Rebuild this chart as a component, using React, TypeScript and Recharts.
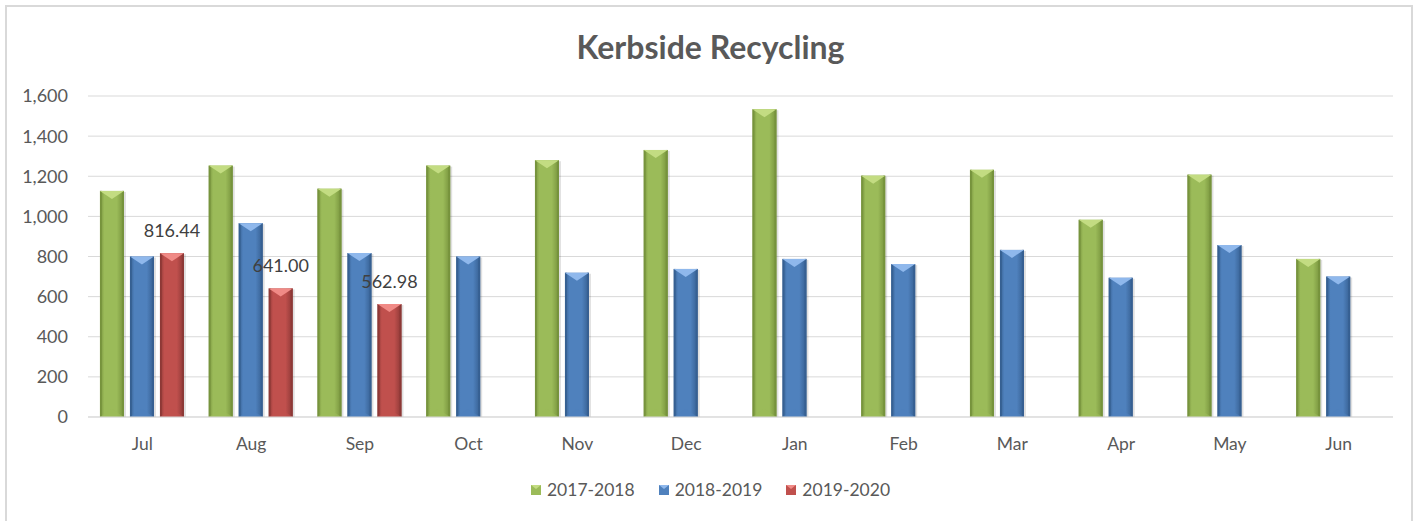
import { Bar, BarChart, CartesianGrid, LabelList, Legend, XAxis, YAxis } from 'recharts';

const months = ['Jul', 'Aug', 'Sep', 'Oct', 'Nov', 'Dec', 'Jan', 'Feb', 'Mar', 'Apr', 'May', 'Jun'];
const season1718 = [1127, 1253, 1138, 1253, 1280, 1331, 1534, 1203, 1232, 983, 1208, 788];
const season1819 = [800, 966, 817, 800, 719, 738, 788, 762, 833, 694, 857, 700];
const season1920: (number | null)[] = [816.44, 641.0, 562.98, null, null, null, null, null, null, null, null, null];
const yTicks = [0, 200, 400, 600, 800, 1000, 1200, 1400, 1600];

const seriesList = [
  { key: 'y1718', name: '2017-2018', base: '#9BBB59', dark: '#76923c', light: '#c3dc82' },
  { key: 'y1819', name: '2018-2019', base: '#4F81BD', dark: '#365f91', light: '#8fb8ec' },
  { key: 'y1920', name: '2019-2020', base: '#C0504D', dark: '#8c3836', light: '#f08a86' },
];

const data = months.map((month, i) => ({
  month,
  y1718: season1718[i],
  y1819: season1819[i],
  y1920: season1920[i],
}));

const textColor = '#595959';
const fontFamily = 'Lato, "Open Sans", sans-serif';

const bevelShape = (key: string) => (props: any) => {
  const { x, y, width, height } = props;
  if (!height || height <= 0) return null;
  const s = seriesList.find((d) => d.key === key)!;
  const cap = Math.min(8, height / 2);
  return (
    <g>
      <rect x={x + 2} y={y + 1} width={width} height={height - 1} fill="#000" opacity={0.12} />
      <rect x={x} y={y} width={width} height={height} fill={`url(#grad-${key})`} />
      <rect x={x} y={y} width={2} height={height} fill={s.dark} opacity={0.8} />
      <rect x={x + width - 2} y={y} width={2} height={height} fill={s.dark} opacity={0.9} />
      <polygon
        points={`${x},${y} ${x + width},${y} ${x + width / 2},${y + cap}`}
        fill={s.light}
      />
      <polygon
        points={`${x},${y + height} ${x + width},${y + height} ${x + width / 2},${y + height - cap}`}
        fill={s.base}
        opacity={0.6}
      />
    </g>
  );
};

const renderLegend = () => (
  <div style={{ display: 'flex', justifyContent: 'center', fontFamily, fontSize: 17.5, color: textColor }}>
    {seriesList.map((s) => (
      <div key={s.key} style={{ display: 'flex', alignItems: 'center', margin: '0 12px' }}>
        <svg width={10} height={10} style={{ marginRight: 6 }}>
          <rect x={0} y={0} width={10} height={10} fill={s.base} />
          <polygon points="0,0 10,0 5,4" fill={s.light} />
        </svg>
        <span>{s.name}</span>
      </div>
    ))}
  </div>
);

export default function App() {
  return (
    <div style={{ position: 'absolute', left: 0, top: 0, width: 1421, height: 521, background: '#fff', overflow: 'hidden' }}>
      <div
        style={{
          position: 'absolute',
          left: 5,
          top: 5,
          width: 1408,
          height: 540,
          border: '2px solid #d9d9d9',
          boxSizing: 'border-box',
        }}
      />
      <div
        style={{
          position: 'absolute',
          left: 0,
          width: 1421,
          top: 27,
          textAlign: 'center',
          fontFamily,
          fontWeight: 700,
          fontSize: 32,
          color: textColor,
        }}
      >
        Kerbside Recycling
      </div>
      <BarChart
        width={1421}
        height={521}
        data={data}
        margin={{ top: 96, right: 28, bottom: 74, left: 0 }}
        barCategoryGap="11%"
        barGap={6}
      >
        <defs>
          {seriesList.map((s) => (
            <linearGradient key={s.key} id={`grad-${s.key}`} x1="0" y1="0" x2="1" y2="0">
              <stop offset="0%" stopColor={s.dark} />
              <stop offset="18%" stopColor={s.base} />
              <stop offset="70%" stopColor={s.base} />
              <stop offset="100%" stopColor={s.dark} />
            </linearGradient>
          ))}
        </defs>
        <CartesianGrid vertical={false} stroke="#d9d9d9" />
        <XAxis
          dataKey="month"
          height={30}
          axisLine={{ stroke: '#d9d9d9' }}
          tickLine={false}
          tickMargin={15}
          tick={{ fill: textColor, fontSize: 17.5, fontFamily }}
        />
        <YAxis
          width={88}
          domain={[0, 1600]}
          ticks={yTicks}
          axisLine={false}
          tickLine={false}
          tickMargin={14}
          tickFormatter={(v) => Number(v).toLocaleString('en-US')}
          tick={{ fill: textColor, fontSize: 18, fontFamily }}
        />
        <Legend
          layout="horizontal"
          verticalAlign="middle"
          align="center"
          content={renderLegend}
          wrapperStyle={{ position: 'absolute', top: 479, left: 0, width: 1421 }}
        />
        {seriesList.map((s) => (
          <Bar
            key={s.key}
            dataKey={s.key}
            name={s.name}
            fill={s.base}
            shape={bevelShape(s.key)}
            isAnimationActive={false}
          >
            {s.key === 'y1920' && (
              <LabelList
                dataKey="y1920"
                position="top"
                offset={16}
                formatter={(v: any) => (v == null ? '' : Number(v).toFixed(2))}
                style={{ fill: '#404040', fontSize: 18, fontFamily }}
              />
            )}
          </Bar>
        ))}
      </BarChart>
    </div>
  );
}
